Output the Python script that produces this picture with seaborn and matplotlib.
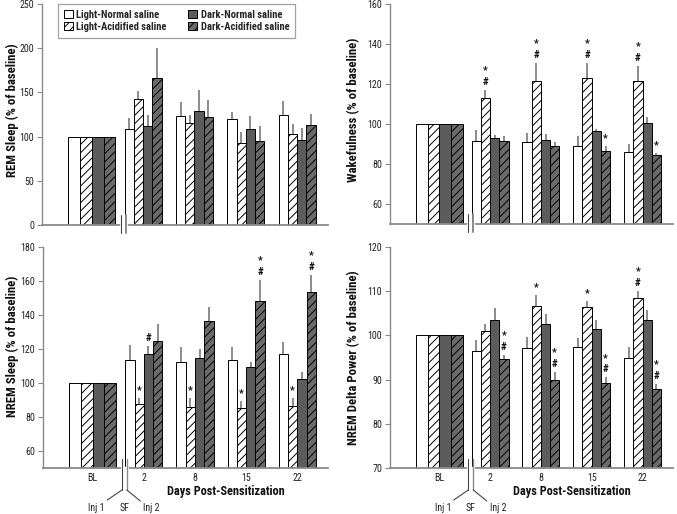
import numpy as np
import pandas as pd
import matplotlib
matplotlib.use("Agg")
import matplotlib.pyplot as plt
import seaborn as sns
from matplotlib.patches import Patch

# ---------------- data ----------------
days = ["BL", "2", "8", "15", "22"]
groups = ["Light-Normal saline", "Light-Acidified saline",
          "Dark-Normal saline", "Dark-Acidified saline"]

# REM sleep (% of baseline)
rem_ln = [100, 108.5, 123.0, 120.0, 124.7]
rem_la = [100, 142.4, 115.0, 93.0, 103.0]
rem_dn = [100, 111.5, 128.5, 109.0, 96.5]
rem_da = [100, 166.0, 122.5, 95.0, 113.0]
rem_ln_sem = [0, 12.5, 16.0, 8.0, 16.0]
rem_la_sem = [0, 9.0, 9.0, 12.0, 11.5]
rem_dn_sem = [0, 12.5, 24.0, 14.0, 13.5]
rem_da_sem = [0, 34.0, 18.5, 17.0, 13.0]

# Wakefulness (% of baseline)
wake_ln = [100, 91.4, 90.9, 89.0, 86.0]
wake_la = [100, 112.8, 121.5, 122.9, 121.5]
wake_dn = [100, 92.8, 92.1, 96.3, 100.3]
wake_da = [100, 91.6, 89.0, 86.6, 84.6]
wake_ln_sem = [0, 5.6, 4.5, 5.0, 3.8]
wake_la_sem = [0, 4.2, 9.0, 7.6, 7.5]
wake_dn_sem = [0, 1.7, 2.9, 1.3, 3.0]
wake_da_sem = [0, 2.4, 2.0, 2.2, 0.8]

# NREM sleep (% of baseline)
nrem_ln = [100, 113.3, 112.5, 113.3, 116.8]
nrem_la = [100, 87.9, 85.6, 85.4, 86.6]
nrem_dn = [100, 117.0, 114.9, 109.2, 102.5]
nrem_da = [100, 125.0, 136.5, 148.3, 153.8]
nrem_ln_sem = [0, 9.1, 8.6, 7.7, 7.5]
nrem_la_sem = [0, 3.0, 5.3, 4.1, 4.7]
nrem_dn_sem = [0, 5.0, 5.3, 3.3, 4.1]
nrem_da_sem = [0, 9.6, 8.5, 12.4, 9.9]

# NREM delta power (% of baseline)
delta_ln = [100, 96.4, 97.1, 97.4, 95.0]
delta_la = [100, 100.9, 106.7, 106.5, 108.4]
delta_dn = [100, 103.5, 102.5, 101.5, 103.5]
delta_da = [100, 94.6, 89.9, 89.3, 87.9]
delta_ln_sem = [0, 2.5, 2.5, 2.1, 2.3]
delta_la_sem = [0, 1.7, 2.5, 1.2, 1.7]
delta_dn_sem = [0, 2.7, 2.4, 2.0, 2.3]
delta_da_sem = [0, 1.0, 1.8, 1.2, 1.1]

# significance marks: (day index, group index, symbols top-to-bottom)
wake_marks = [(1, 1, "*#"), (2, 1, "*#"), (3, 1, "*#"), (4, 1, "*#"),
              (3, 3, "*"), (4, 3, "*")]
nrem_marks = [(1, 1, "*"), (2, 1, "*"), (3, 1, "*"), (4, 1, "*"),
              (1, 2, "#"), (3, 3, "*#"), (4, 3, "*#")]
delta_marks = [(1, 3, "*#"), (2, 1, "*"), (2, 3, "*#"), (3, 1, "*"),
               (3, 3, "*#"), (4, 1, "*#"), (4, 3, "*#")]

# ---------------- style ----------------
sns.set_style("white")
FONT = ["Roboto Condensed", "Liberation Sans", "DejaVu Sans"]
plt.rcParams["font.family"] = FONT
plt.rcParams["hatch.linewidth"] = 0.7

face = {groups[0]: "white", groups[1]: "white",
        groups[2]: "#5c5c5c", groups[3]: "#6a6a6a"}
hatch = {groups[0]: "", groups[1]: "////", groups[2]: "", groups[3]: "////"}
AX_GRAY = "#8a8a8a"
ERR_GRAY = "#8c8c8c"
TICK_FS = 7.2
YLAB_FS = 9.2

W_PX, H_PX = 677, 514
fig = plt.figure(figsize=(W_PX / 100, H_PX / 100), dpi=100)


def add_axes(l, r, b, t):
    return fig.add_axes([l / W_PX, 1 - b / H_PX, (r - l) / W_PX, (b - t) / H_PX])


ax_rem = add_axes(42, 328, 225, 4)
ax_wake = add_axes(390, 673, 224, 4)
ax_nrem = add_axes(43, 328, 468, 247)
ax_delta = add_axes(390, 673, 468, 247)

XLIM = (-0.97, 4.6)
XBREAK = 0.62


def px_to_frac(ax, dx, dy):
    pos = ax.get_position()
    return dx / (pos.width * W_PX), dy / (pos.height * H_PX)


def draw_panel(ax, means, sems, ylim, yticks, ylabel, ylab_pos, marks, bottom):
    rows = []
    for g, m in zip(groups, means):
        for d, v in zip(days, m):
            rows.append({"day": d, "value": v, "group": g})
    df = pd.DataFrame(rows)
    sns.barplot(data=df, x="day", y="value", hue="group", order=days,
                hue_order=groups, width=0.725, errorbar=None, legend=False,
                palette=face, saturation=1, edgecolor="black", linewidth=0.7,
                ax=ax, zorder=2)
    centers = {}
    for gi, cont in enumerate(ax.containers):
        g = groups[gi]
        patches = sorted(cont.patches, key=lambda p: p.get_x())
        for di, p in enumerate(patches):
            p.set_facecolor(face[g])
            p.set_hatch(hatch[g])
            p.set_edgecolor("black")
            if di == 0:  # baseline bars are wider
                w = 0.23
                p.set_x(-2 * w + gi * w)
                p.set_width(w)
            centers[(di, gi)] = p.get_x() + p.get_width() / 2
    # upper error bars
    for gi in range(4):
        xs = [centers[(di, gi)] for di in range(1, 5)]
        ys = means[gi][1:]
        es = sems[gi][1:]
        ax.errorbar(xs, ys, yerr=[np.zeros(len(es)), es], fmt="none",
                    ecolor=ERR_GRAY, elinewidth=1.4, capsize=0, zorder=1.5)
    # significance marks
    for di, gi, sym in marks:
        top = means[gi][di] + sems[gi][di]
        for k, ch in enumerate(reversed(sym)):
            off_px = 8 + 11.5 * k
            ax.annotate(ch, xy=(centers[(di, gi)], top), xytext=(0, off_px / 1.389),
                        textcoords="offset points", ha="center", va="center",
                        fontsize=7.8, fontweight="bold", color="#111111")

    ax.set_xlim(*XLIM)
    ax.set_ylim(*ylim)
    ax.set_yticks(yticks)
    ax.set_yticklabels([str(t) for t in yticks])
    sns.despine(ax=ax)
    ax.spines["left"].set_color(AX_GRAY)
    ax.spines["bottom"].set_color(AX_GRAY)
    ax.spines["left"].set_linewidth(1.0)
    ax.spines["bottom"].set_linewidth(1.3)
    ax.tick_params(axis="y", direction="out", length=3.5, width=0.8,
                   color=AX_GRAY, labelsize=TICK_FS, labelcolor="#222222", pad=2, left=True)
    ax.set_ylabel(ylabel, fontsize=YLAB_FS, fontweight="bold", color="#111111")
    fx, fy = px_to_frac(ax, 1, 1)
    ax.yaxis.set_label_coords(-ylab_pos[0] * fx, ylab_pos[1])
    ax.set_xlabel("")
    if bottom:
        ax.tick_params(axis="x", length=0, labelsize=TICK_FS, labelcolor="#222222", pad=3.5)
    else:
        ax.tick_params(axis="x", length=0, labelbottom=False)

    # axis break
    xb = (XBREAK - XLIM[0]) / (XLIM[1] - XLIM[0])
    g1 = 2.5 * fx
    kw = dict(transform=ax.transAxes, clip_on=False, zorder=6)
    ax.plot([xb - g1, xb + g1], [0, 0], color="white", lw=2.5, **kw)
    if not bottom:
        ax.plot([xb - g1, xb - g1], [10 * fy, -8 * fy], color="#444444", lw=0.8, **kw)
        ax.plot([xb + g1, xb + g1], [10 * fy, -8 * fy], color=AX_GRAY, lw=1.4, **kw)
    else:
        ax.plot([xb - g1, xb - g1], [9 * fy, -22 * fy], color="#444444", lw=0.8, **kw)
        ax.plot([xb + g1, xb + g1], [9 * fy, -22 * fy], color=AX_GRAY, lw=1.0, **kw)
        ax.plot([xb - g1, xb - 17 * fx], [-22 * fy, -32 * fy], color="#444444", lw=0.8, **kw)
        ax.plot([xb + g1, xb + 16 * fx], [-22 * fy, -33 * fy], color="#444444", lw=0.8, **kw)
        for dx, lab in [(-28, "Inj 1"), (0, "SF"), (27, "Inj 2")]:
            ax.text(xb + dx * fx, -40 * fy, lab, transform=ax.transAxes,
                    ha="center", va="center", fontsize=TICK_FS, color="#222222")
        ax.text(0.642, -23 * fy, "Days Post-Sensitization", transform=ax.transAxes,
                ha="center", va="center", fontsize=8.8, fontweight="bold", color="#111111")


draw_panel(ax_rem, [rem_ln, rem_la, rem_dn, rem_da],
           [rem_ln_sem, rem_la_sem, rem_dn_sem, rem_da_sem],
           (0, 250), [0, 50, 100, 150, 200, 250], "REM Sleep (% of baseline)",
           (22.5, 0.52), [], False)
draw_panel(ax_wake, [wake_ln, wake_la, wake_dn, wake_da],
           [wake_ln_sem, wake_la_sem, wake_dn_sem, wake_da_sem],
           (50, 160), [60, 80, 100, 120, 140, 160], "Wakefulness (% of baseline)",
           (30, 0.52), wake_marks, False)
draw_panel(ax_nrem, [nrem_ln, nrem_la, nrem_dn, nrem_da],
           [nrem_ln_sem, nrem_la_sem, nrem_dn_sem, nrem_da_sem],
           (50, 180), [60, 80, 100, 120, 140, 160, 180], "NREM Sleep (% of baseline)",
           (23.5, 0.55), nrem_marks, True)
draw_panel(ax_delta, [delta_ln, delta_la, delta_dn, delta_da],
           [delta_ln_sem, delta_la_sem, delta_dn_sem, delta_da_sem],
           (70, 120), [70, 80, 90, 100, 110, 120], "NREM Delta Power (% of baseline)",
           (30, 0.5), delta_marks, True)

# legend
handles = [Patch(facecolor=face[g], hatch=hatch[g], edgecolor="black", linewidth=0.7)
           for g in groups]
leg = ax_rem.legend(handles, groups, ncol=2, loc="upper left",
                    bbox_to_anchor=((58 - 42) / 286, 1.0),
                    prop={"family": FONT, "weight": "bold", "size": 7.6},
                    handlelength=0.85, handleheight=0.85, handletextpad=0.35,
                    columnspacing=2.0, labelspacing=0.2, borderpad=0.55,
                    frameon=True, fancybox=False, borderaxespad=0)
leg.get_frame().set_edgecolor(AX_GRAY)
leg.get_frame().set_linewidth(0.9)

fig.savefig("out.png", dpi=100, facecolor="white")
